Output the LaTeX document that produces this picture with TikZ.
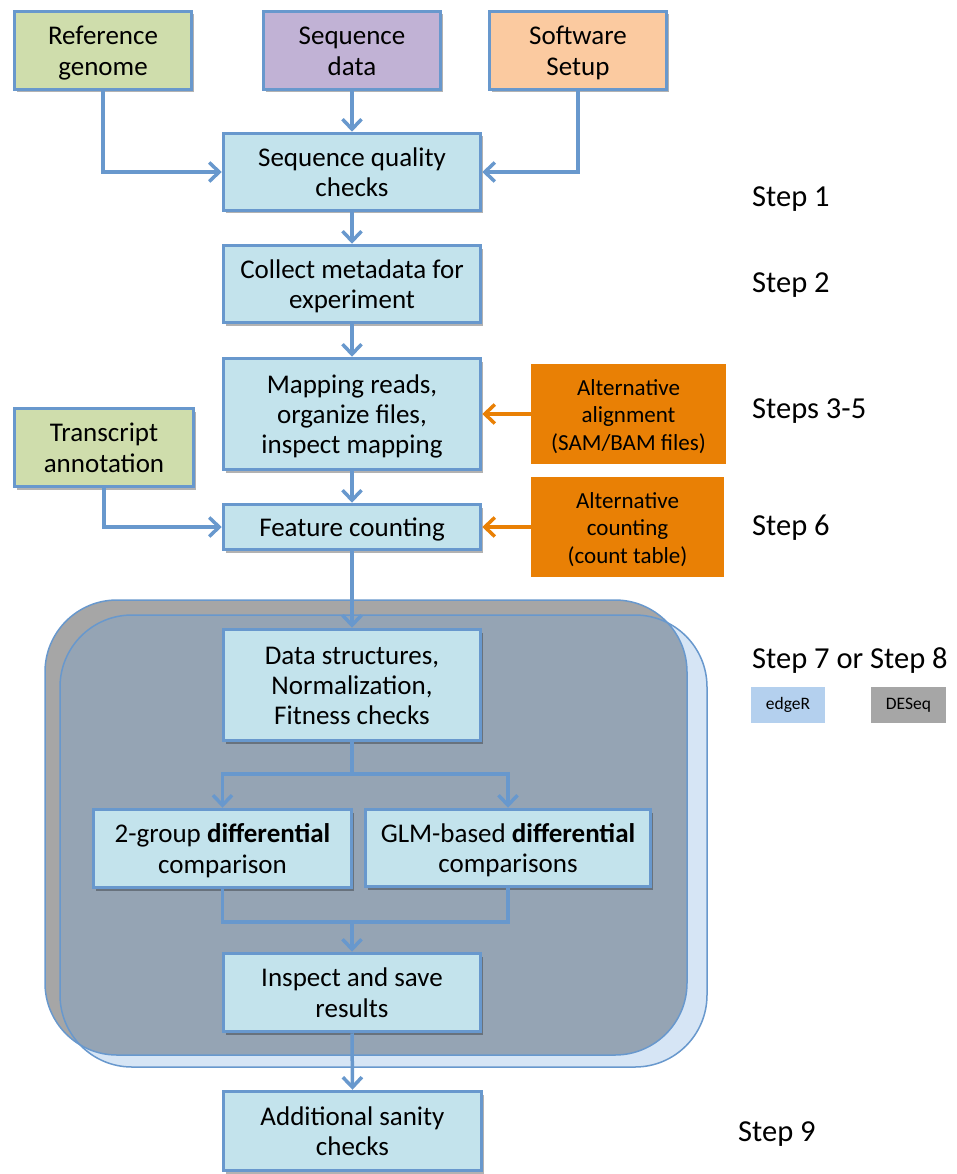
\documentclass[tikz,border=0pt]{standalone}
\usepackage{fontspec}
\setmainfont{Carlito}
\usetikzlibrary{arrows.meta,shadows}
\definecolor{bordc}{RGB}{104,152,205}
\definecolor{greenf}{RGB}{207,221,172}
\definecolor{purplef}{RGB}{193,178,213}
\definecolor{peachf}{RGB}{251,202,160}
\definecolor{boxf}{RGB}{195,227,236}
\definecolor{orangef}{RGB}{233,128,5}
\definecolor{grayf}{RGB}{166,166,166}
\definecolor{lbluef}{RGB}{214,229,245}
\definecolor{overf}{RGB}{149,164,180}
\definecolor{edgerf}{RGB}{180,208,238}
\newcommand\boxfont{\fontsize{27}{30.2}\selectfont}
\newcommand\stepfont{\fontsize{30.5}{36}\selectfont}
\newcommand\altfont{\fontsize{23}{27.5}\selectfont}
\newcommand\tagfont{\fontsize{17.5}{20}\selectfont}
% vertical struts emulating the slide's text placement
\newcommand\bt{\rule{0pt}{25pt}}
\newcommand\bb{\rule[-6pt]{0pt}{6pt}}
\newcommand\at{\rule{0pt}{23pt}}
\newcommand\ab{\rule[-6pt]{0pt}{6pt}}
\begin{document}
\begin{tikzpicture}[x=1pt,y=-1pt,
  box/.style={draw=bordc, line width=3.5pt, fill=#1, align=center, inner sep=0pt,
    font=\boxfont, drop shadow={shadow xshift=2.5pt, shadow yshift=-3pt, opacity=0.3, fill=black}},
  box/.default=boxf,
  altbox/.style={fill=orangef, align=center, inner sep=0pt, font=\altfont},
  arr/.style={draw=bordc, line width=3.5pt, -{Straight Barb[length=10pt,width=19pt]}},
  plain/.style={draw=bordc, line width=3.5pt},
  oarr/.style={draw=orangef, line width=3.5pt, -{Straight Barb[length=10pt,width=19pt]}},
  steplbl/.style={anchor=base west, font=\stepfont, inner sep=0pt},
  tagbox/.style={inner sep=0pt, font=\tagfont, minimum width=74pt, minimum height=36pt},
  frame/.style={draw=bordc, line width=1.5pt, rounded corners=72pt}
]
\useasboundingbox (0,0) rectangle (956,1174);
% background panels
\fill[grayf, rounded corners=72pt] (45,600) rectangle (687,1055);
\fill[lbluef, rounded corners=72pt] (60,615) rectangle (707,1067);
\begin{scope}
  \clip[rounded corners=72pt] (45,600) rectangle (687,1055);
  \fill[overf, rounded corners=72pt] (60,615) rectangle (707,1067);
\end{scope}
\draw[frame] (45,600) rectangle (687,1055);
\draw[frame] (60,615) rectangle (707,1067);

% nodes
\node[box=greenf, minimum width=177pt, minimum height=78pt] (ref) at (103,50.5) {\bt Reference\\genome\bb};
\node[box=purplef, minimum width=177pt, minimum height=78pt] (seq) at (352,50.5) {\bt Sequence\\data\bb};
\node[box=peachf, minimum width=177pt, minimum height=78pt] (soft) at (578,50.5) {\bt Software\\Setup\bb};
\node[box, minimum width=257pt, minimum height=77pt] (sqc) at (352,172) {\bt Sequence quality\\checks\bb};
\node[box, minimum width=257pt, minimum height=77pt] (meta) at (352,284) {\bt Collect metadata for\\experiment\bb};
\node[box, minimum width=257pt, minimum height=111pt] (map) at (352,414) {\bt Mapping reads,\\organize files,\\inspect mapping\bb};
\node[box, minimum width=257pt, minimum height=45pt] (feat) at (352,527) {\bt Feature counting\bb};
\node[box=greenf, minimum width=179pt, minimum height=78pt] (trans) at (104,447.5) {\bt Transcript\\annotation\bb};
\node[altbox, minimum width=195pt, minimum height=100pt] (alt1) at (628.5,414) {\at Alternative\\alignment\\(SAM/BAM files)\ab};
\node[altbox, minimum width=193pt, minimum height=100pt] (alt2) at (627.5,527) {\at Alternative\\counting\\(count table)\ab};
\node[box, minimum width=257pt, minimum height=111pt] (data) at (352,685) {\bt Data structures,\\Normalization,\\Fitness checks\bb};
\node[box, minimum width=258pt, minimum height=78pt] (two) at (222.5,848.5) {\bt 2-group \textbf{differential}\\comparison\bb};
\node[box, minimum width=285pt, minimum height=77pt] (glm) at (508,848) {\bt GLM-based \textbf{differential}\\comparisons\bb};
\node[box, minimum width=257pt, minimum height=78pt] (insp) at (352,992.5) {\bt Inspect and save\\results\bb};
\node[box, minimum width=258pt, minimum height=79pt] (add) at (352.5,1131) {\bt Additional sanity\\checks\bb};

% step labels
\node[steplbl] (s1) at (752,207) {Step 1};
\node[steplbl] (s2) at (752,292) {Step 2};
\node[steplbl] (s3) at (752,418) {Steps 3-5};
\node[steplbl] (s6) at (752,535) {Step 6};
\node[steplbl] (s7) at (752,668) {Step 7 or Step 8};
\node[steplbl] (s9) at (738,1141) {Step 9};
\node[tagbox, fill=edgerf] (edger) at (788,705) {edgeR};
\node[tagbox, fill=grayf, minimum width=75pt] (deseq) at (908.5,705) {DESeq};

% connectors
\draw[arr] (ref.south) |- (sqc.west);
\draw[arr] (seq.south) -- (sqc.north);
\draw[arr] (soft.south) |- (sqc.east);
\draw[arr] (sqc.south) -- (meta.north);
\draw[arr] (meta.south) -- (map.north);
\draw[arr] (map.south) -- (feat.north);
\draw[arr] (trans.south) |- (feat.west);
\draw[oarr] (alt1.west) -- (map.east);
\draw[oarr] (alt2.west) -- (feat.east);
\draw[arr] (feat.south) -- (data.north);
\coordinate (split) at (352,774);
\coordinate (merge) at (352,922);
\draw[plain] (data.south) -- (split);
\draw[arr] (split) -| (two.north);
\draw[arr] (split) -| (glm.north);
\draw[plain] (two.south) |- (merge);
\draw[plain] (glm.south) |- (merge);
\draw[arr] (merge) -- (insp.north);
\draw[arr] (insp.south) -- (add.north);
\end{tikzpicture}
\end{document}
